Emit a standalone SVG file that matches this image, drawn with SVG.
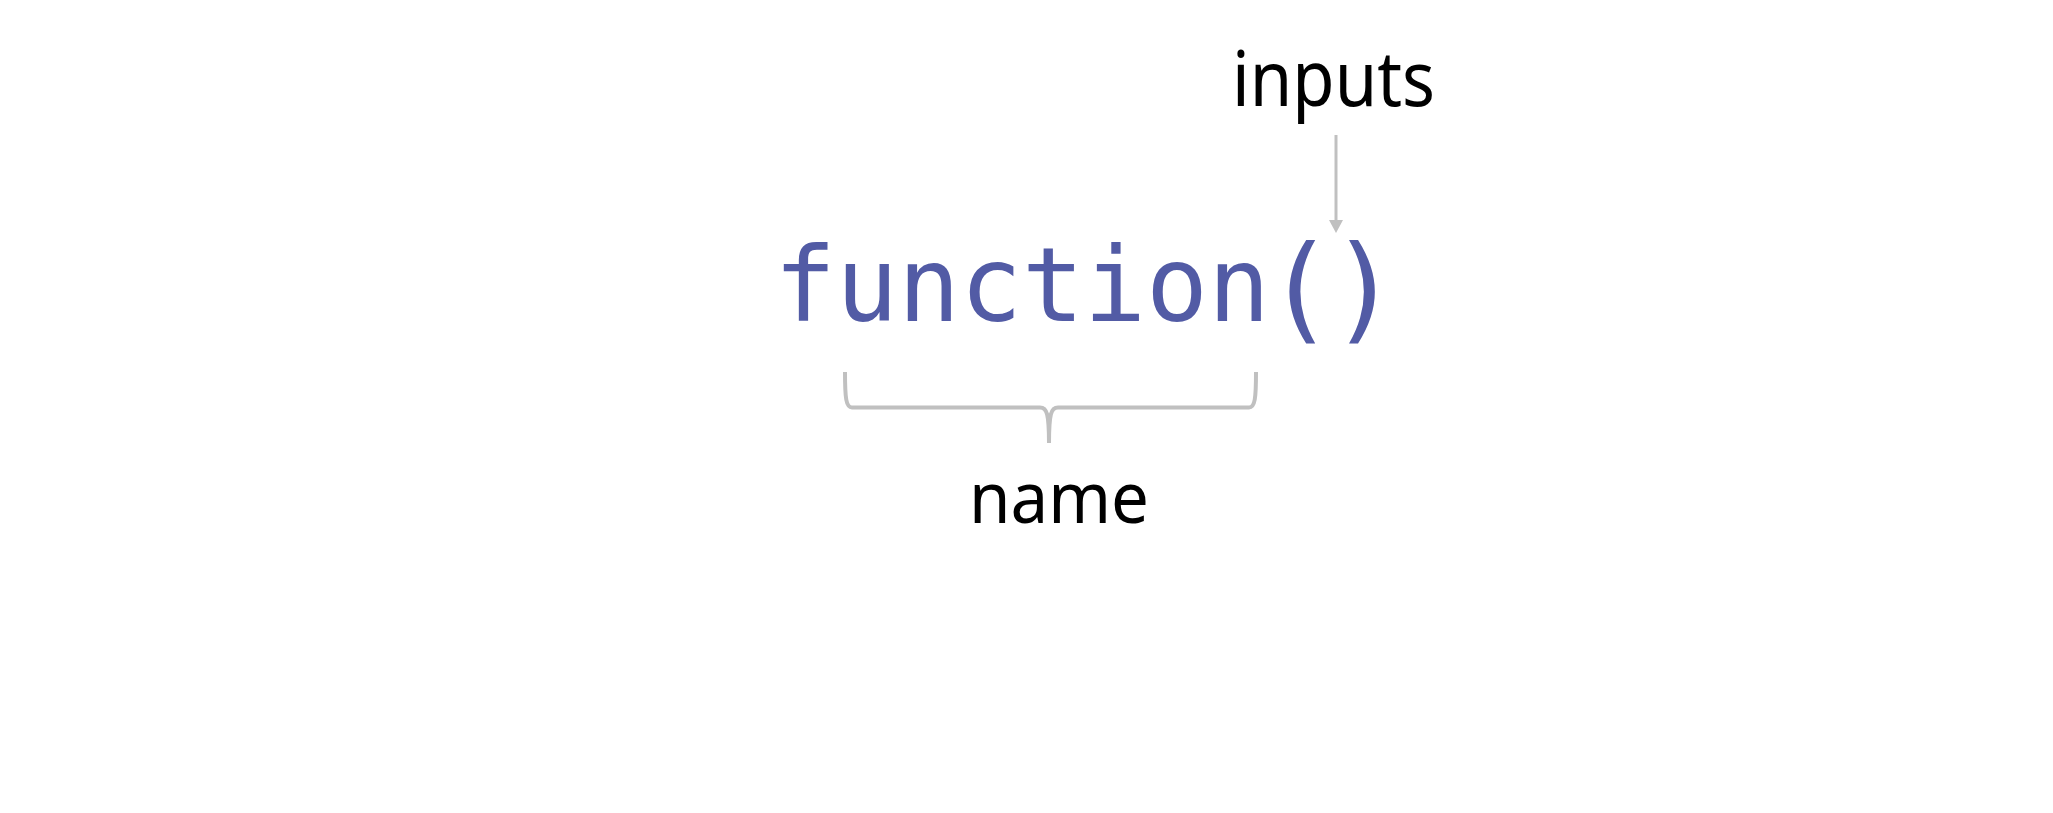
<svg xmlns="http://www.w3.org/2000/svg" width="2053" height="813" viewBox="0 0 2053 813">
<style>
.code{font-family:"DejaVu Sans Mono","Liberation Mono",monospace;font-size:103px;fill:#525ba5}
.paren{font-size:115px;text-anchor:middle}
.label{font-family:"Noto Sans","Open Sans",sans-serif;font-size:76px;fill:#000}
.conn{fill:none;stroke:#c0c0c0;stroke-width:4;stroke-linecap:butt}
</style>
<rect width="2053" height="813" fill="#fff"/>
<g id="function">
<text class="code" y="321"><tspan x="774" textLength="496" lengthAdjust="spacingAndGlyphs">function</tspan><tspan class="paren" x="1300" y="328">(</tspan><tspan class="paren" x="1364" y="328">)</tspan></text>
</g>
<g id="inputs">
<text class="label" x="1232" y="106" textLength="203" lengthAdjust="spacingAndGlyphs">inputs</text>
</g>
<g id="name">
<text class="label" style="font-size:72px" x="969" y="523" textLength="180" lengthAdjust="spacingAndGlyphs">name</text>
</g>
<g id="connectors">
<path class="conn" style="stroke-width:3" d="M1336,135 L1336,220"/>
<path d="M1329,220 L1343,220 L1336,233 Z" fill="#c0c0c0"/>
<path class="conn" d="M845,372 C845,398 846,407.5 852,407.5 L1040,407.5 C1047,407.5 1049,414 1049,443 M1049,443 C1049,414 1051,407.5 1058,407.5 L1249,407.5 C1255,407.5 1256,398 1256,372"/>
</g>
</svg>
